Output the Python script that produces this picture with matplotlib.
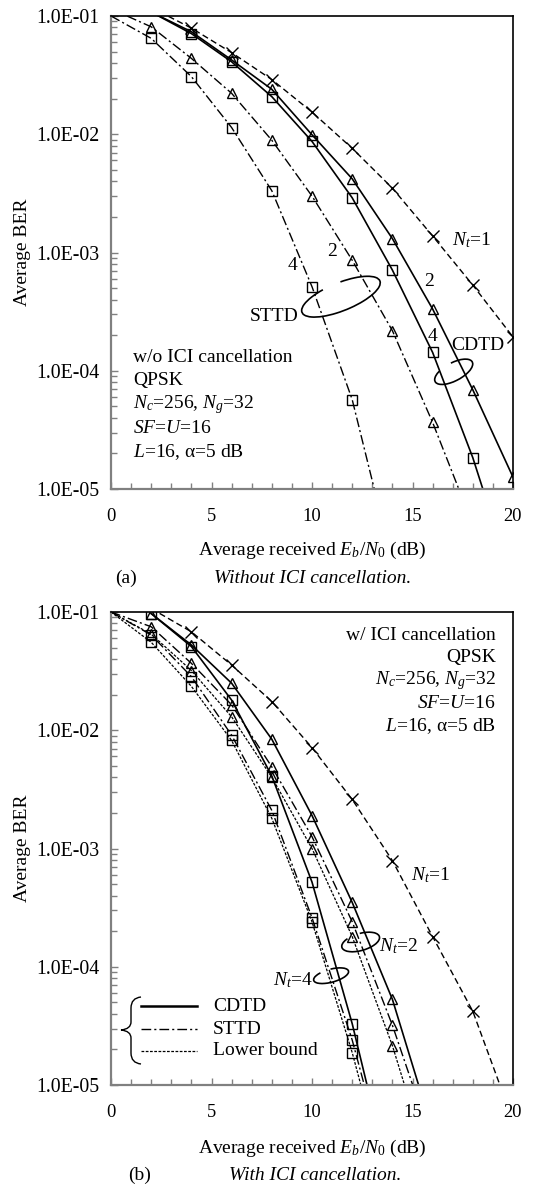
import numpy as np
import matplotlib
matplotlib.use('Agg')
import matplotlib.pyplot as plt
from matplotlib.patches import Arc, PathPatch
from matplotlib.path import Path
from matplotlib.transforms import ScaledTranslation
from matplotlib.ticker import MultipleLocator, LogLocator, FuncFormatter, NullFormatter

plt.rcParams['font.family'] = ['Liberation Serif', 'DejaVu Serif']
plt.rcParams['mathtext.fontset'] = 'custom'
plt.rcParams['mathtext.rm'] = 'Liberation Serif'
plt.rcParams['mathtext.it'] = 'Liberation Serif:italic'
plt.rcParams['mathtext.bf'] = 'Liberation Serif:bold'

nan = np.nan

# average received Eb/N0 (dB)
snr = [0, 2, 4, 6, 8, 10, 12, 14, 16, 18, 20]

# (a) without ICI cancellation (values past the frame continue the curves)
a_nt1 = [nan, 0.118, 0.079, 0.049, 0.029, 0.0154, 0.0076, 0.0035, 0.00138, 0.00053, 0.000193]
a_cdtd2 = [nan, 0.108, 0.0736, 0.0425, 0.024, 0.0099, 0.0042, 0.00131, 0.000333, 6.9e-5, 1.26e-5]
a_cdtd4 = [nan, 0.108, 0.071, 0.041, 0.0208, 0.0087, 0.0029, 0.00071, 0.000143, 1.84e-5, 1.6e-6]
a_sttd2 = [0.115, 0.081, 0.0438, 0.0222, 0.0089, 0.003, 0.00086, 0.000218, 3.66e-5, 5e-6, nan]
a_sttd4 = [0.1, 0.0647, 0.0307, 0.0114, 0.00333, 0.000514, 5.7e-5, 2.4e-6, nan, nan, nan]

# (b) with ICI cancellation
b_nt1 = [nan, 0.107, 0.068, 0.0356, 0.0175, 0.00713, 0.0026, 0.00079, 0.00018, 4.2e-5, 5e-6]
b_cdtd2 = [nan, 0.097, 0.0526, 0.025, 0.0084, 0.0019, 0.00035, 5.3e-5, 4.1e-6, nan, nan]
b_cdtd4 = [nan, 0.097, 0.051, 0.018, 0.0041, 0.00052, 3.3e-5, 1.3e-6, nan, nan, nan]
b_sttd2 = [0.1, 0.075, 0.0368, 0.0164, 0.0049, 0.00126, 0.00024, 3.2e-5, 3.2e-6, nan, nan]
b_sttd4 = [0.1, 0.064, 0.0284, 0.0091, 0.0021, 0.00026, 2.4e-5, 1.3e-6, nan, nan, nan]
b_lb2 = [0.1, 0.065, 0.032, 0.013, 0.0040, 0.001, 0.00018, 2.15e-5, 1.7e-6, nan, nan]
b_lb4 = [0.1, 0.0555, 0.0235, 0.0082, 0.0018, 0.00024, 1.88e-5, 1.0e-6, nan, nan, nan]

params_a = ['w/o ICI cancellation', 'QPSK', r'$N_c$=256, $N_g$=32', r'$SF$=$U$=16', r'$L$=16, α=5 dB']
params_b = ['w/ ICI cancellation', 'QPSK', r'$N_c$=256, $N_g$=32', r'$SF$=$U$=16', r'$L$=16, α=5 dB']
legend_names = ['CDTD', 'STTD', 'Lower bound']

DASH = (4.5, 2.5)
DASHDOT = (7, 2.2, 1.5, 2.2)
FINE = (2.2, 1.2)
FS = 14

fig = plt.figure(figsize=(5.33, 11.85), dpi=100)
ax1 = fig.add_axes([111 / 533, 1 - 489 / 1185, 402 / 533, 473 / 1185])
ax2 = fig.add_axes([111 / 533, 1 - 1085 / 1185, 402 / 533, 473 / 1185])


def curve(ax, y, marker, dashes=None, lw=1.0, ms=7.5):
    # markers only where the point sits inside the frame
    show = [(x > 0) and (1e-5 <= v <= 0.1) for x, v in zip(snr, y)]
    ln, = ax.plot(snr, y, color='k', lw=lw, marker=marker, ms=ms, mew=1.0,
                  fillstyle='none', markevery=show)
    if dashes is not None:
        ln.set_dashes(dashes)


def loop(ax, xc, yc, w, h, ang, t1, t2):
    tr = fig.dpi_scale_trans + ScaledTranslation(xc, yc, ax.transData)
    ax.add_patch(Arc((0, 0), w, h, angle=ang, theta1=t1, theta2=t2,
                     transform=tr, lw=1.2, color='k', clip_on=False))


def style(ax, xlab_y):
    ax.set_yscale('log')
    ax.set_xlim(0, 20)
    ax.set_ylim(1e-5, 1e-1)
    ax.xaxis.set_major_locator(MultipleLocator(5))
    ax.xaxis.set_minor_locator(MultipleLocator(1))
    ax.yaxis.set_major_locator(LogLocator(10))
    ax.yaxis.set_minor_locator(LogLocator(10, subs=np.arange(2, 10)))
    ax.yaxis.set_minor_formatter(NullFormatter())
    ax.yaxis.set_major_formatter(FuncFormatter(lambda v, p: f'{v:.1E}'))
    ax.tick_params(which='both', direction='in', colors='#808080', labelcolor='k')
    ax.tick_params(axis='x', which='both', top=False, pad=14, labelsize=13.3)
    ax.tick_params(axis='y', which='both', right=False, pad=8, labelsize=14.3)
    ax.tick_params(which='major', length=5, width=1)
    ax.tick_params(which='minor', length=4, width=1)
    for s in ['left', 'bottom']:
        ax.spines[s].set_color('#808080')
        ax.spines[s].set_linewidth(1.6)
    for s in ['top', 'right']:
        ax.spines[s].set_color('k')
        ax.spines[s].set_linewidth(1.2)
    ax.set_ylabel('Average BER', fontsize=FS)
    ax.yaxis.set_label_coords(-0.2, 0.5)
    ax.set_xlabel(r'Average received $E_b$/$N_\mathrm{0}$ (dB)', fontsize=FS)
    ax.xaxis.set_label_coords(0.5, xlab_y)


# ---- (a) ----
curve(ax1, a_nt1, 'x', DASH, lw=1.0, ms=8)
curve(ax1, a_cdtd2, '^', None, lw=1.2)
curve(ax1, a_cdtd4, 's', None, lw=1.2)
curve(ax1, a_sttd2, '^', DASHDOT, lw=1.0)
curve(ax1, a_sttd4, 's', DASHDOT, lw=1.0)
style(ax1, -0.108)

ax1.text(16.95, 1.28e-3, r'$N_t$=1', fontsize=FS, ha='left', va='center')
ax1.text(10.98, 1.02e-3, '2', fontsize=FS, ha='center', va='center')
ax1.text(9.04, 7.8e-4, '4', fontsize=FS, ha='center', va='center')
ax1.text(15.82, 5.66e-4, '2', fontsize=FS, ha='center', va='center')
ax1.text(15.99, 1.94e-4, '4', fontsize=FS, ha='center', va='center')
ax1.text(8.1, 2.85e-4, 'STTD', fontsize=FS, ha='center', va='center')
ax1.text(18.26, 1.65e-4, 'CDTD', fontsize=FS, ha='center', va='center')
loop(ax1, 11.44, 4.23e-4, 0.84, 0.28, 22, 137, 70)
loop(ax1, 17.05, 9.8e-5, 0.42, 0.18, 28, 150, 80)
for i, t in enumerate(params_a):
    ax1.text(0.055, 0.279 - i * 0.0503, t, transform=ax1.transAxes, fontsize=FS,
             ha='left', va='center')

# ---- (b) ----
curve(ax2, b_nt1, 'x', DASH, lw=1.0, ms=8)
curve(ax2, b_cdtd2, '^', None, lw=1.2)
curve(ax2, b_cdtd4, 's', None, lw=1.2)
curve(ax2, b_sttd2, '^', DASHDOT, lw=1.0)
curve(ax2, b_sttd4, 's', DASHDOT, lw=1.0)
curve(ax2, b_lb2, '^', FINE, lw=0.9)
curve(ax2, b_lb4, 's', FINE, lw=0.9)
style(ax2, -0.112)

ax2.text(15.9, 5.97e-4, r'$N_t$=1', fontsize=FS, ha='center', va='center')
ax2.text(14.3, 1.48e-4, r'$N_t$=2', fontsize=FS, ha='center', va='center')
ax2.text(9.03, 7.7e-5, r'$N_t$=4', fontsize=FS, ha='center', va='center')
loop(ax2, 12.42, 1.62e-4, 0.39, 0.17, 16, 150, 80)
loop(ax2, 10.95, 8.4e-5, 0.36, 0.13, 15, 150, 80)
for i, t in enumerate(params_b):
    ax2.text(0.958, 0.951 - i * 0.048, t, transform=ax2.transAxes, fontsize=FS,
             ha='right', va='center')

# legend drawn by hand with a brace
leg_y = [0.167, 0.118, 0.072]
leg_dash = [None, DASHDOT, FINE]
leg_lw = [1.8, 1.0, 0.9]
for yy, nm, dd, lw in zip(leg_y, legend_names, leg_dash, leg_lw):
    ln, = ax2.plot([0.0746, 0.214], [yy, yy], color='k', lw=lw, transform=ax2.transAxes)
    if dd is not None:
        ln.set_dashes(dd)
    ax2.text(0.254, yy, nm, transform=ax2.transAxes, fontsize=FS, ha='left', va='center')


def fx(px):
    return (px - 111) / 402


def fy(py):
    return (1085 - py) / 473


brace = [(141, 997), (131, 998), (131, 1008), (131, 1022), (131, 1029), (121, 1030),
         (131, 1031), (131, 1038), (131, 1053), (131, 1063), (141, 1064)]
codes = [Path.MOVETO, Path.CURVE3, Path.CURVE3, Path.LINETO, Path.CURVE3, Path.CURVE3,
         Path.CURVE3, Path.CURVE3, Path.LINETO, Path.CURVE3, Path.CURVE3]
bp = Path([(fx(a), fy(b)) for a, b in brace], codes)
ax2.add_patch(PathPatch(bp, fill=False, lw=1.0, color='k', transform=ax2.transAxes))

# captions
fig.text(126 / 533, 1 - 578 / 1185, '(a)', fontsize=FS, ha='center', va='center')
fig.text(313 / 533, 1 - 578 / 1185, 'Without ICI cancellation.', fontsize=FS,
         style='italic', ha='center', va='center')
fig.text(140 / 533, 1 - 1175 / 1185, '(b)', fontsize=FS, ha='center', va='center')
fig.text(315 / 533, 1 - 1175 / 1185, 'With ICI cancellation.', fontsize=FS,
         style='italic', ha='center', va='center')

fig.savefig('out.png', dpi=100)
